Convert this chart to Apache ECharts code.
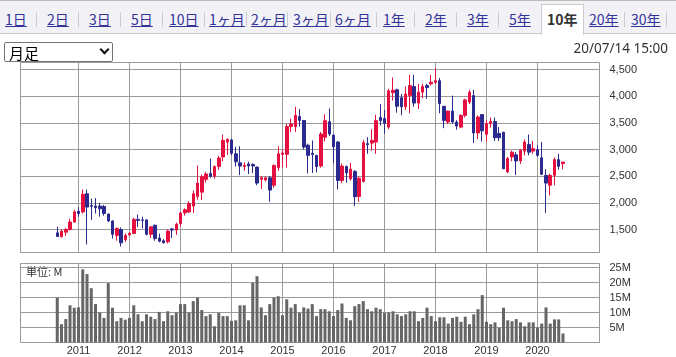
<!DOCTYPE html>
<html><head><meta charset="utf-8">
<script src="https://cdn.jsdelivr.net/npm/echarts@6/dist/echarts.min.js"></script>
<style>
html,body{margin:0;padding:0;width:676px;height:357px;overflow:hidden;background:#fff;}
#chart{position:absolute;left:0;top:0;width:676px;height:357px;z-index:0;}
#tabs{position:absolute;left:0;top:0;width:676px;height:32px;background:#f2f2f6;border-top:1px solid #bbb;border-bottom:1px solid #ccc;z-index:1;font-family:"Noto Sans CJK JP",sans-serif;font-size:14px;}
.tab{position:absolute;top:8px;line-height:20px;color:#333399;text-decoration:underline;white-space:nowrap;}
.sep{position:absolute;top:11px;width:1px;height:15px;background:#ccc;}
.act{position:absolute;left:541px;top:3px;width:41px;height:30px;background:#fff;border:1px solid #ccc;border-bottom:none;}
.tab.on{color:#333;font-weight:bold;text-decoration:none;}
#sel{position:absolute;left:4px;top:42px;width:107px;height:18px;border:1px solid #767676;border-radius:2px;background:#fff;z-index:1;}
#sel span{position:absolute;left:4px;top:0px;font-size:15px;line-height:19px;font-family:"Noto Sans CJK JP",sans-serif;color:#000;}
#sel i{position:absolute;left:96px;top:3px;width:5px;height:5px;border-right:2px solid #111;border-bottom:2px solid #111;transform:rotate(45deg);}
</style></head>
<body>
<div id="chart"></div>
<div id="tabs"></div>
<div id="sel"><span>月足</span><i></i></div>
<script>
// ---- data ----
const tabLabels = ['1日','2日','3日','5日','10日','1ヶ月','2ヶ月','3ヶ月','6ヶ月','1年','2年','3年','5年','10年','20年','30年'];
const activeTab = '10年';
const dateText = '20/07/14 15:00';
const unitText = '単位: M';

// monthly categories Aug 2010 .. Jul 2020
const months = [];
for (let y = 2010, m = 8; months.length < 120; m++) {
  if (m > 12) { m = 1; y++; }
  months.push(y + '-' + String(m).padStart(2, '0'));
}
const yearLabels = ['2011','2012','2013','2014','2015','2016','2017','2018','2019','2020'];
const priceTicks = [1500,2000,2500,3000,3500,4000,4500];
const volTicks = [5,10,15,20,25];

const open = [1437,1365,1450,1500,1640,1840,1830,2170,1950,1940,
1940,1930,1790,1660,1390,1500,1310,1400,1425,1690,
1680,1680,1410,1580,1340,1290,1270,1510,1490,1610,
1810,1830,1940,2120,2200,2440,2550,2500,2680,2860,
3140,3180,2920,2750,2680,2730,2720,2670,2440,2430,
2470,2330,2660,2910,2910,3430,3430,3620,3545,3080,
2930,2890,2690,3230,3520,3270,3140,2420,2680,2450,
2590,2120,2400,3110,3120,3140,3600,3580,3420,4065,
4120,3970,3800,4013,4180,3870,4075,4200,4230,4260,
4290,3810,3515,3720,3515,3420,3640,3890,4010,3310,
3655,3285,3485,3525,3300,3325,2580,2860,2900,2785,
2970,3095,2970,2995,2845,2515,2330,2515,2810,2735];
const close = [1370,1470,1500,1640,1830,1800,2160,1920,1935,1910,
1890,1800,1660,1410,1520,1250,1390,1430,1690,1670,
1670,1410,1550,1330,1280,1250,1470,1490,1600,1810,
1870,1990,2170,2370,2490,2540,2500,2680,2840,3170,
3190,2930,2770,2690,2700,2690,2690,2370,2470,2470,
2240,2700,2920,2935,3430,3480,3640,3545,3045,2890,
2905,2680,3290,3540,3290,3050,2420,2690,2560,2630,
2115,2460,3130,3090,3170,3540,3540,3490,4100,4110,
3810,3800,4040,4200,3870,4075,4180,4160,4260,4290,
3860,3545,3720,3515,3440,3640,3930,4075,3310,3610,
3350,3485,3525,3220,3220,2640,2830,2950,2785,2985,
3140,2950,3015,2890,2535,2370,2515,2810,2685,2765];
const low = [1360,1350,1380,1480,1630,1740,1800,1220,1680,1800,
1740,1760,1640,1330,1290,1180,1268,1380,1420,1550,
1520,1390,1340,1290,1260,1240,1240,1340,1400,1560,
1760,1810,1810,2060,2050,2380,2470,2450,2620,2780,
2900,2890,2680,2520,2600,2540,2560,2330,2260,2400,
2020,2280,2600,2660,2660,3330,3330,3430,3000,2550,
2560,2570,2660,3150,3250,2750,2250,2370,2380,2420,
1940,2020,2380,2920,2980,2920,3450,3300,3380,3920,
3690,3640,3740,3680,3800,3760,3960,3950,4200,4230,
3680,3400,3480,3480,3370,3400,3600,3850,3120,3200,
3150,3150,3410,3160,3160,2630,2560,2780,2520,2730,
2890,2890,2920,2860,2520,1810,2140,2330,2620,2630];
const high = [1550,1500,1530,1700,1870,1920,2250,2250,2080,2090,
2000,1960,1800,1670,1540,1540,1425,1450,1720,1780,
1740,1690,1560,1590,1420,1320,1500,1530,1630,1830,
1900,2030,2230,2700,2530,2580,2830,2700,2880,3280,
3210,3200,3050,3060,2760,2770,2740,2680,2500,2490,
2500,2720,3060,3000,3480,3580,3800,3760,3550,3110,
3170,2900,3330,3660,3770,3280,3160,2740,2700,2750,
2610,2490,3180,3230,3380,3650,3850,3740,4140,4350,
4140,4040,4180,4400,4400,4230,4230,4230,4400,4530,
4340,3810,3730,4010,3550,3660,3950,4120,4120,3640,
3655,3550,3600,3600,3420,3330,2860,2980,2950,3010,
3190,3280,3160,3080,3140,2630,2545,2850,2920,2765];
const volume = [15.0,6.1,7.8,12.4,11.6,11.7,24.4,22.8,18.1,12.8,
10.0,8.2,19.8,11.6,7.1,8.2,7.6,8.2,12.4,9.4,
7.1,9.4,8.6,7.8,10.2,7.1,10.4,9.1,10.0,12.8,
12.8,10.0,13.8,15.0,10.8,8.8,9.4,5.4,9.9,8.8,
8.8,7.2,7.4,12.4,12.4,7.4,19.9,22.1,11.7,9.1,
12.8,15.0,15.4,9.1,14.4,11.6,12.8,9.9,11.7,11.3,
12.8,8.8,11.1,11.1,10.4,8.8,10.8,13.0,8.2,7.4,
12.1,12.8,13.8,11.1,10.4,11.6,11.1,9.9,10.0,10.4,
9.4,8.8,9.4,10.4,10.4,7.1,8.2,11.6,8.8,7.1,
8.4,8.4,6.3,8.2,8.6,6.9,8.6,6.1,9.4,11.1,
15.8,6.9,6.1,6.7,4.9,11.6,7.4,7.1,7.8,6.7,
5.4,6.7,6.7,5.0,6.3,11.7,6.3,7.7,7.7,3.0];

// ---- tabs (HTML) ----
const tabX = [5,47,89,131,169,209,251,293,335,383,425,467,509,547,589,631];
const sepX = [36,78,120,162,204,246,287,330,376,414,456,498,624,666];
const tabs = document.getElementById('tabs');
const act = document.createElement('div'); act.className = 'act'; tabs.appendChild(act);
sepX.forEach(x => { const s = document.createElement('div'); s.className = 'sep'; s.style.left = x + 'px'; tabs.appendChild(s); });
tabLabels.forEach((t, k) => {
  const a = document.createElement('span');
  a.className = 'tab' + (t === activeTab ? ' on' : '');
  a.style.left = tabX[k] + 'px';
  a.textContent = t;
  tabs.appendChild(a);
});

// ---- chart ----
const yearPos = yearLabels.map(y => months.indexOf(y + '-01'));
const candles = months.map((m, i) => [i, open[i], close[i], low[i], high[i]]);
const vols = months.map((m, i) => [i, volume[i]]);
const GRID = '#9a9a9a';
const FONT = 'Liberation Sans';
const xMin = -8.65, xMax = 127.59;

const chart = echarts.init(document.getElementById('chart'), null, {renderer: 'canvas'});
const xBase = (gi, showLabel) => ({
  type: 'value', gridIndex: gi, min: xMin, max: xMax,
  axisLine: {show: false},
  axisTick: {show: false, customValues: yearPos},
  axisLabel: {show: showLabel, customValues: yearPos, color: '#333', fontSize: 11, fontFamily: FONT, margin: 3,
    formatter: v => yearLabels[yearPos.indexOf(Math.round(v))] || ''},
  splitLine: {show: true, lineStyle: {color: GRID, width: 1}}
});
chart.setOption({
  animation: false,
  textStyle: {fontFamily: FONT},
  grid: [
    {left: 20.5, top: 62.5, width: 579, height: 190, show: true, borderColor: GRID, borderWidth: 1, backgroundColor: 'transparent', containLabel: false},
    {left: 20.5, top: 263.5, width: 579, height: 79, show: true, borderColor: GRID, borderWidth: 1, backgroundColor: 'transparent', containLabel: false}
  ],
  xAxis: [xBase(0, false), xBase(1, true)],
  yAxis: [
    {type: 'value', gridIndex: 0, position: 'right', min: 1069, max: 4631,
      axisLine: {show: false},
      axisTick: {show: true, length: 5, customValues: priceTicks, lineStyle: {color: GRID}},
      axisLabel: {customValues: priceTicks, color: '#333', fontSize: 11, fontFamily: FONT, margin: 10,
        formatter: v => Number(v).toLocaleString('en-US')},
      splitLine: {show: true, lineStyle: {color: GRID, width: 1}}},
    {type: 'value', gridIndex: 1, position: 'right', min: 0, max: 26.33,
      axisLine: {show: false},
      axisTick: {show: true, length: 5, customValues: volTicks, lineStyle: {color: GRID}},
      axisLabel: {customValues: volTicks, color: '#333', fontSize: 11, fontFamily: FONT, margin: 10,
        formatter: v => v + 'M'},
      splitLine: {show: true, lineStyle: {color: GRID, width: 1}}}
  ],
  series: [
    {type: 'candlestick', xAxisIndex: 0, yAxisIndex: 0, data: candles,
      dimensions: ['x', 'open', 'close', 'low', 'high'],
      encode: {x: 0, y: [1, 2, 3, 4]},
      barWidth: 3,
      itemStyle: {color: '#e5103f', color0: '#2b2a8e', borderColor: '#e5103f', borderColor0: '#2b2a8e', borderWidth: 1}},
    {type: 'bar', xAxisIndex: 1, yAxisIndex: 1, data: vols, barWidth: 3,
      itemStyle: {color: '#666'}}
  ],
  graphic: [
    {type: 'text', right: 8, top: 42, style: {text: dateText, fontSize: 13.5, fontFamily: 'Noto Sans', fill: '#333'}},
    {type: 'text', left: 26, top: 266, style: {text: unitText, fontSize: 11, fontFamily: 'Noto Sans CJK JP', fill: '#333'}}
  ]
});
</script>
</body></html>
